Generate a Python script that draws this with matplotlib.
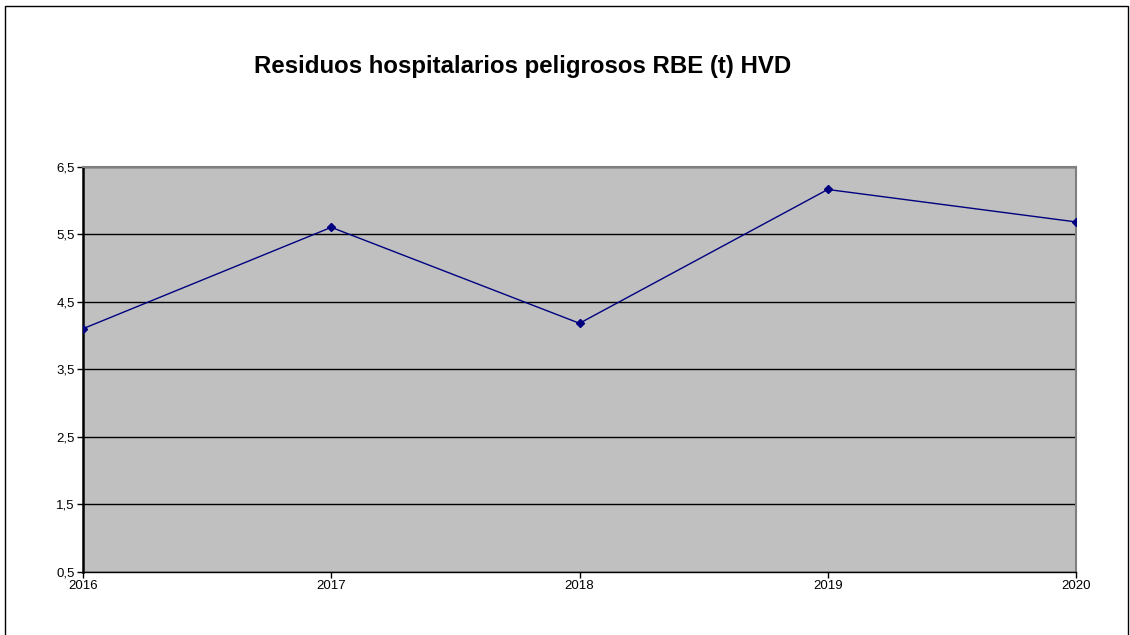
import matplotlib.pyplot as plt
from matplotlib.patches import Rectangle

years = [2016, 2017, 2018, 2019, 2020]
values = [4.10, 5.60, 4.18, 6.16, 5.68]
yticks = [0.5, 1.5, 2.5, 3.5, 4.5, 5.5, 6.5]
ytick_labels = ["0,5", "1,5", "2,5", "3,5", "4,5", "5,5", "6,5"]

plt.rcParams["font.family"] = ["Liberation Sans", "DejaVu Sans"]

fig = plt.figure(figsize=(11.3, 6.35), dpi=100)
ax = fig.add_axes([83 / 1130, 63 / 635, 993 / 1130, 405.5 / 635])
ax.set_facecolor("#c0c0c0")

ax.plot(years, values, color="#000080", lw=1.0, marker="D", ms=4.5, zorder=3)

ax.set_xlim(2016, 2020)
ax.set_ylim(0.5, 6.5)
ax.set_xticks(years)
ax.set_xticklabels([str(y) for y in years], fontsize=9.5)
ax.set_yticks(yticks)
ax.set_yticklabels(ytick_labels, fontsize=9.5)
ax.tick_params(axis="both", direction="out", length=4, width=1, color="black", pad=2)
ax.yaxis.grid(True, color="black", lw=1.0)
ax.set_axisbelow(True)

ax.spines["left"].set_linewidth(1.8)
ax.spines["left"].set_color("black")
ax.spines["bottom"].set_linewidth(1.0)
ax.spines["bottom"].set_color("black")
ax.spines["top"].set_color("#808080")
ax.spines["top"].set_linewidth(1.5)
ax.spines["right"].set_color("#808080")
ax.spines["right"].set_linewidth(1.5)

fig.text(523 / 1130, 1 - 66 / 635, "Residuos hospitalarios peligrosos RBE (t) HVD",
         ha="center", va="center", fontsize=17.3, fontweight="bold")

border = Rectangle((5 / 1130, -0.05), 1123 / 1130, 1.05 - 6 / 635,
                   transform=fig.transFigure, fill=False, edgecolor="black",
                   lw=1.0, clip_on=False)
fig.patches.append(border)

fig.savefig("out.png", dpi=100)
